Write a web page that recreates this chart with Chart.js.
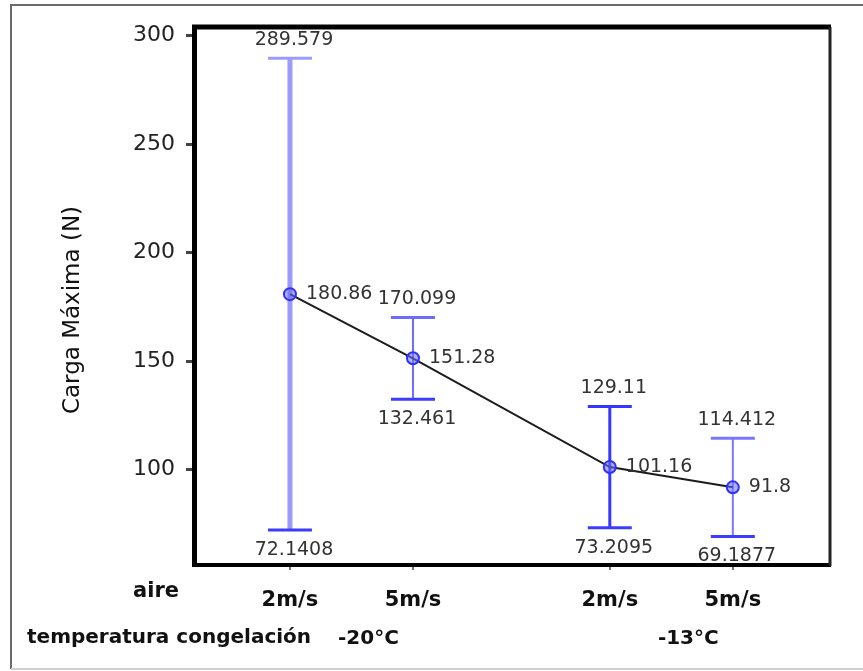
<!DOCTYPE html>
<html>
<head>
<meta charset="utf-8">
<script src="https://cdn.jsdelivr.net/npm/chart.js@4.4.1/dist/chart.umd.min.js"></script>
<style>
  html, body { margin: 0; padding: 0; background: #fff; }
  #wrap { width: 863px; height: 671px; }
</style>
</head>
<body>
<div id="wrap"><canvas id="cargaChart" width="863" height="671"></canvas></div>
<script>
// velocidad del aire por grupo de temperatura
const speedLabels = ['2m/s', '5m/s', '2m/s', '5m/s'];
const groupIndex = [0, 0, 1, 1];
const groupLabels = ['-20°C', '-13°C'];

// carga máxima: media e intervalo
const meanValues = [180.86, 151.28, 101.16, 91.8];
const upperValues = [289.579, 170.099, 129.11, 114.412];
const lowerValues = [72.1408, 132.461, 73.2095, 69.1877];

const yTicks = [100, 150, 200, 250, 300];

// extra space between the two temperature groups (in x units)
const groupGap = 0.6;
const xPos = speedLabels.map((_, i) => i + 1 + groupIndex[i] * groupGap);

const barColors = ['#9a9aff', '#6c6cff', '#3636ff', '#7878ff'];
const barWidths = [5, 2, 3, 2];
const capHalf = 22;

const FONT = "'DejaVu Sans', Verdana, sans-serif";

const errorBars = {
  id: 'errorBars',
  beforeDatasetsDraw(chart) {
    const ctx = chart.ctx;
    const x = chart.scales.x, y = chart.scales.y;
    ctx.save();
    xPos.forEach((v, i) => {
      const px = x.getPixelForValue(v);
      const top = y.getPixelForValue(upperValues[i]);
      const bot = y.getPixelForValue(lowerValues[i]);
      ctx.strokeStyle = barColors[i];
      ctx.lineWidth = barWidths[i];
      ctx.beginPath();
      ctx.moveTo(px, top);
      ctx.lineTo(px, bot);
      ctx.stroke();
      ctx.lineWidth = 3;
      ctx.beginPath();
      ctx.moveTo(px - capHalf, top);
      ctx.lineTo(px + capHalf, top);
      ctx.stroke();
      ctx.strokeStyle = '#3c3cff';
      ctx.beginPath();
      ctx.moveTo(px - capHalf, bot);
      ctx.lineTo(px + capHalf, bot);
      ctx.stroke();
    });
    ctx.restore();
  }
};

const valueLabels = {
  id: 'valueLabels',
  afterDatasetsDraw(chart) {
    const ctx = chart.ctx;
    const x = chart.scales.x, y = chart.scales.y;
    ctx.save();
    ctx.font = '19px ' + FONT;
    ctx.fillStyle = '#333';
    ctx.textBaseline = 'middle';
    xPos.forEach((v, i) => {
      const px = x.getPixelForValue(v);
      ctx.textAlign = 'center';
      ctx.fillText(String(upperValues[i]), px + 4, y.getPixelForValue(upperValues[i]) - 18);
      ctx.fillText(String(lowerValues[i]), px + 4, y.getPixelForValue(lowerValues[i]) + 20);
      ctx.textAlign = 'left';
      ctx.fillText(String(meanValues[i]), px + 16, y.getPixelForValue(meanValues[i]));
    });
    ctx.restore();
  }
};

const frameAndNotes = {
  id: 'frameAndNotes',
  beforeDraw(chart) {
    const ctx = chart.ctx;
    ctx.save();
    ctx.fillStyle = '#fff';
    ctx.fillRect(0, 0, chart.width, chart.height);
    ctx.strokeStyle = '#6a6a6a';
    ctx.lineWidth = 2;
    ctx.beginPath();
    ctx.moveTo(chart.width + 2, 5);
    ctx.lineTo(11, 5);
    ctx.lineTo(11, 669);
    ctx.stroke();
    ctx.strokeStyle = '#cfcfcf';
    ctx.beginPath();
    ctx.moveTo(11, 669);
    ctx.lineTo(chart.width + 2, 669);
    ctx.stroke();
    ctx.restore();
  },
  afterDraw(chart) {
    const ctx = chart.ctx;
    const a = chart.chartArea;
    const x = chart.scales.x;
    ctx.save();
    // top and right edges of the plot box
    ctx.strokeStyle = '#000';
    ctx.lineWidth = 5;
    ctx.beginPath();
    ctx.moveTo(a.left - 2, a.top);
    ctx.lineTo(a.right + 1, a.top);
    ctx.stroke();
    ctx.strokeStyle = '#222';
    ctx.lineWidth = 3;
    ctx.beginPath();
    ctx.moveTo(a.right, a.top);
    ctx.lineTo(a.right, a.bottom + 1);
    ctx.stroke();

    // y axis title
    ctx.fillStyle = '#111';
    ctx.textBaseline = 'middle';
    ctx.textAlign = 'center';
    ctx.save();
    ctx.translate(73, 310);
    ctx.rotate(-Math.PI / 2);
    ctx.font = '23px ' + FONT;
    ctx.fillText('Carga Máxima (N)', 0, 0);
    ctx.restore();

    ctx.font = 'bold 21px ' + FONT;
    ctx.fillText('aire', 156, 592);
    ctx.font = 'bold 20px ' + FONT;
    ctx.textAlign = 'left';
    ctx.fillText('temperatura congelación', 27, 638);
    ctx.textAlign = 'center';
    groupLabels.forEach((g, gi) => {
      const idx = groupIndex.map((v, i) => v === gi ? i : -1).filter(i => i >= 0);
      const mid = (x.getPixelForValue(xPos[idx[0]]) + x.getPixelForValue(xPos[idx[idx.length - 1]])) / 2;
      ctx.fillText(g, mid + 17, 639);
    });
    ctx.restore();
  }
};

new Chart(document.getElementById('cargaChart'), {
  type: 'line',
  data: {
    datasets: [{
      data: xPos.map((v, i) => ({ x: v, y: meanValues[i] })),
      borderColor: '#1c1c1c',
      borderWidth: 2,
      tension: 0,
      pointStyle: 'circle',
      pointRadius: 6,
      pointBorderWidth: 2,
      pointBorderColor: '#2f2fff',
      pointBackgroundColor: 'rgba(110,110,255,0.55)'
    }]
  },
  options: {
    responsive: false,
    animation: false,
    layout: { padding: { top: 27, right: 33, left: 0, bottom: 0 } },
    plugins: { legend: { display: false }, tooltip: { enabled: false } },
    scales: {
      x: {
        type: 'linear',
        min: 0.22,
        max: 5.39,
        afterBuildTicks(scale) { scale.ticks = xPos.map(v => ({ value: v })); },
        afterFit(scale) { scale.height = 106; },
        border: { display: true, color: '#000', width: 4 },
        grid: { drawOnChartArea: false, drawTicks: true, tickLength: 5, color: '#777', lineWidth: 2 },
        ticks: {
          autoSkip: false,
          maxRotation: 0,
          padding: 18,
          color: '#111',
          font: { family: FONT, size: 21, weight: 'bold' },
          callback: (val, i) => speedLabels[i]
        }
      },
      y: {
        min: 56,
        max: 304,
        afterBuildTicks(scale) { scale.ticks = yTicks.map(v => ({ value: v })); },
        afterFit(scale) { scale.width = 194; },
        border: { display: true, color: '#000', width: 5 },
        grid: { drawOnChartArea: false, drawTicks: true, tickLength: 8, color: '#444', lineWidth: 3 },
        ticks: {
          padding: 11,
          color: '#222',
          font: { family: FONT, size: 22 }
        },
        title: { display: false }
      }
    }
  },
  plugins: [frameAndNotes, errorBars, valueLabels]
});
</script>
</body>
</html>
